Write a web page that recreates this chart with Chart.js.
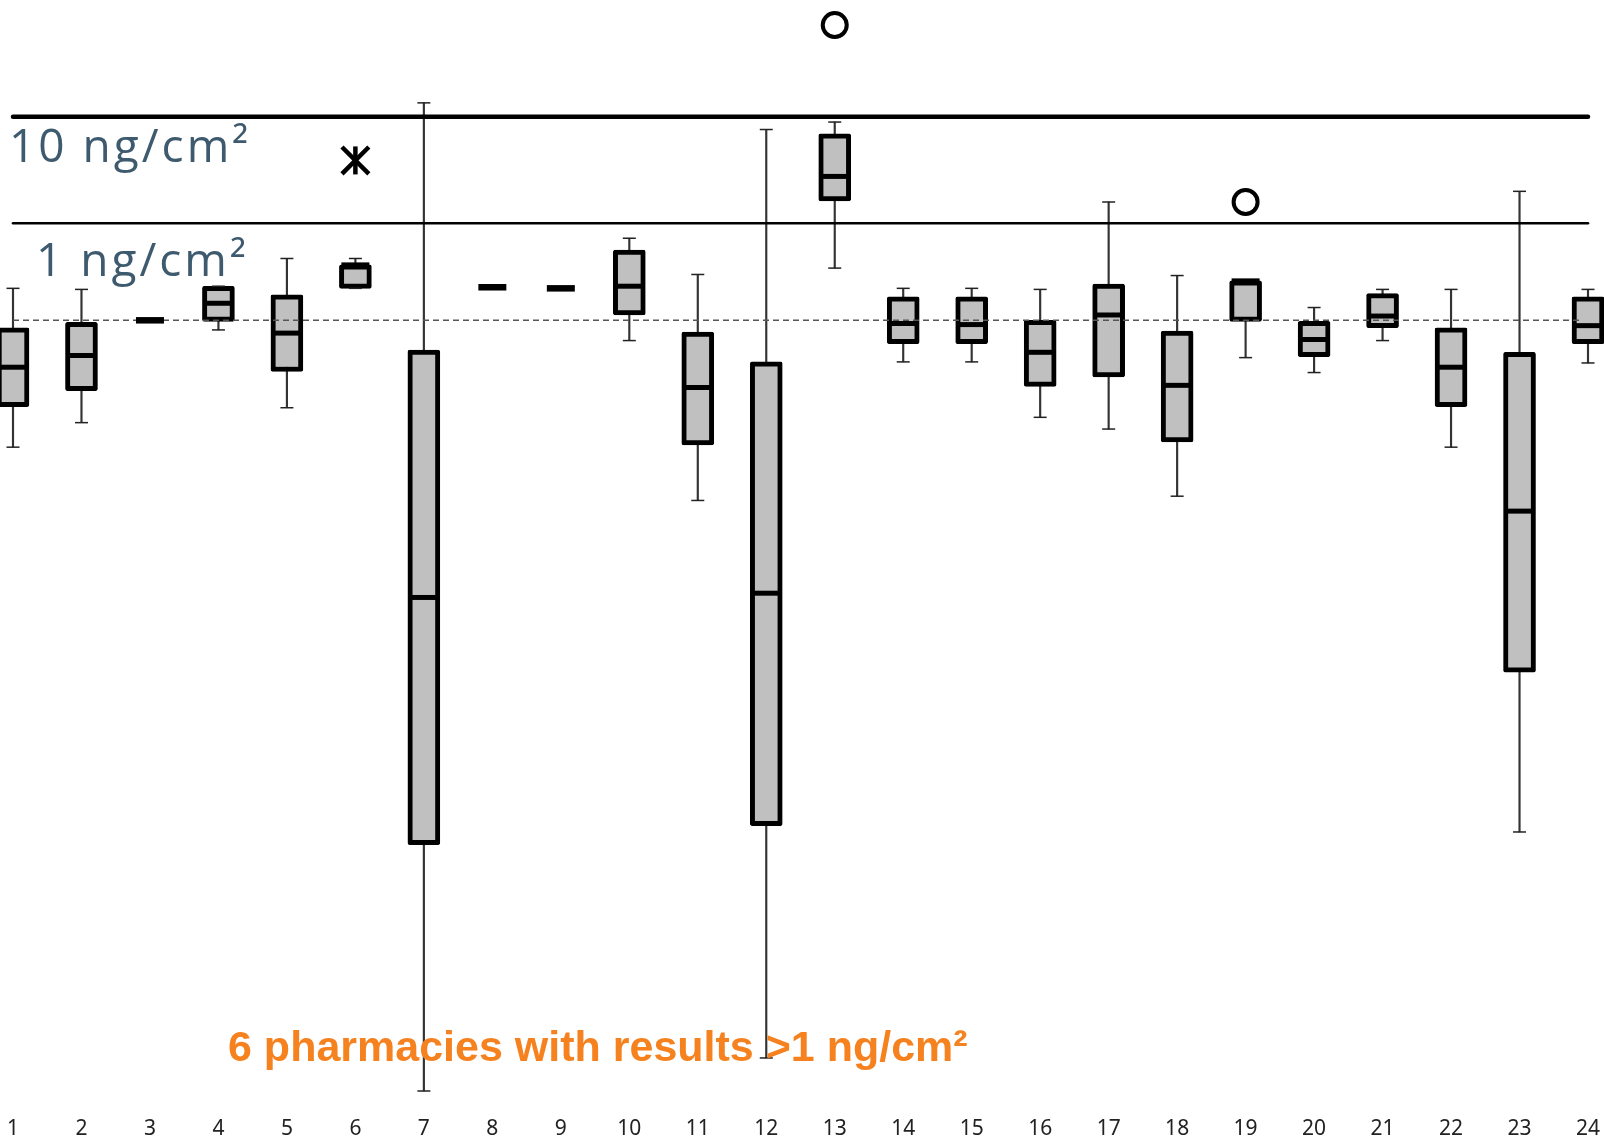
<!DOCTYPE html>
<html>
<head>
<meta charset="utf-8">
<script src="https://cdn.jsdelivr.net/npm/chart.js@4.4.1/dist/chart.umd.min.js"></script>
<style>
  html, body { margin: 0; padding: 0; background: #fff; }
  #wrap { width: 1604px; height: 1141px; position: relative; }
</style>
</head>
<body>
<div id="wrap"><canvas id="boxChart"></canvas></div>
<script>
// pharmacies 1..24, values are log10(ng/cm²)
const categories = ['1','2','3','4','5','6','7','8','9','10','11','12',
                    '13','14','15','16','17','18','19','20','21','22','23','24'];

const whiskerLow  = [-2.10, -1.87, -0.91, -1.00, -1.73, -0.61, -8.14, -0.60, -0.61, -1.10, -2.60, -7.83,
                     -0.42, -1.30, -1.30, -1.82, -1.93, -2.56, -1.26, -1.40, -1.10, -2.10, -5.71, -1.31];
const quartile1   = [-1.72, -1.57, -0.91, -0.92, -1.39, -0.61, -5.83, -0.60, -0.61, -0.86, -2.08, -5.65,
                      0.21, -1.13, -1.13, -1.53, -1.44, -2.05, -0.92, -1.25, -0.98, -1.72, -4.21, -1.13];
const medians     = [-1.35, -1.24, -0.91, -0.75, -1.03, -0.39, -3.51, -0.60, -0.61, -0.59, -1.54, -3.47,
                      0.44, -0.94, -0.95, -1.21, -0.86, -1.52, -0.54, -1.09, -0.87, -1.35, -2.70, -0.96];
const quartile3   = [-0.98, -0.93, -0.91, -0.59, -0.67, -0.39, -1.19, -0.60, -0.61, -0.25, -1.02, -1.30,
                      0.84, -0.69, -0.69, -0.91, -0.57, -1.01, -0.54, -0.92, -0.66, -0.98, -1.21, -0.69];
const whiskerHigh = [-0.61, -0.62, -0.91, -0.59, -0.33, -0.33,  1.13, -0.60, -0.61, -0.14, -0.48,  0.88,
                      0.95, -0.61, -0.61, -0.62,  0.20, -0.49, -0.54, -0.79, -0.62, -0.62,  0.30, -0.62];

// outliers (circles) and extremes (asterisk)
const outliers = [null, null, null, null, null, null, null, null, null, null, null, null,
                  1.86, null, null, null, null, null, 0.20, null, null, null, null, null];
const extremes = [null, null, null, null, null, 0.59, null, null, null, null, null, null,
                  null, null, null, null, null, null, null, null, null, null, null, null];

// horizontal reference levels: 10 ng/cm², 1 ng/cm², and the dashed level
const level10 = 1;
const level1 = 0;
const dashedLevel = -0.91;

const refLines = {
  id: 'refLines',
  // dashed line goes over the box fills but under the medians
  afterDatasetDraw(chart, args) {
    if (args.index !== 1) return;
    const { ctx, chartArea, scales: { y } } = chart;
    ctx.save();
    ctx.strokeStyle = '#555';
    ctx.lineWidth = 1.5;
    ctx.setLineDash([6, 4]);
    ctx.beginPath();
    ctx.moveTo(chartArea.left, y.getPixelForValue(dashedLevel));
    ctx.lineTo(chartArea.right - 5, y.getPixelForValue(dashedLevel));
    ctx.stroke();
    ctx.restore();
  },
  afterDatasetsDraw(chart) {
    const { ctx, chartArea, scales: { y } } = chart;
    ctx.save();
    ctx.strokeStyle = '#000';
    ctx.lineCap = 'round';
    ctx.lineWidth = 4.5;
    ctx.beginPath();
    ctx.moveTo(chartArea.left, y.getPixelForValue(level10));
    ctx.lineTo(chartArea.right, y.getPixelForValue(level10));
    ctx.stroke();

    ctx.lineWidth = 2.5;
    ctx.beginPath();
    ctx.moveTo(chartArea.left, y.getPixelForValue(level1));
    ctx.lineTo(chartArea.right, y.getPixelForValue(level1));
    ctx.stroke();

    ctx.fillStyle = '#3e5a6e';
    ctx.font = '46px "Open Sans"';
    ctx.letterSpacing = '3px';
    ctx.textBaseline = 'alphabetic';
    ctx.fillText('10 ng/cm²', chartArea.left - 4, y.getPixelForValue(level10) + 45);
    ctx.fillText('1 ng/cm²', chartArea.left + 23, y.getPixelForValue(level1) + 53);

    ctx.letterSpacing = '0px';
    ctx.fillStyle = '#f5821f';
    ctx.font = 'bold 43px "Liberation Sans"';
    ctx.fillText('6 pharmacies with results >1 ng/cm²', 228, chartArea.bottom - 30);
    ctx.restore();
  }
};

new Chart(document.getElementById('boxChart'), {
  type: 'bar',
  data: {
    labels: categories,
    datasets: [
      {
        label: 'whiskers',
        data: categories.map((c, i) => [whiskerLow[i], whiskerHigh[i]]),
        backgroundColor: '#333',
        barThickness: 1.5,
        grouped: false,
        clip: false,
        order: 6
      },
      {
        label: 'boxes',
        data: categories.map((c, i) => [quartile1[i], quartile3[i]]),
        backgroundColor: '#c0c0c0',
        borderColor: '#000',
        borderWidth: 5,
        borderSkipped: false,
        borderRadius: 2,
        barThickness: 32,
        grouped: false,
        clip: false,
        order: 5
      },
      {
        type: 'line',
        label: 'upper caps',
        data: whiskerHigh,
        showLine: false,
        pointStyle: 'line',
        pointRadius: 6.5,
        borderColor: '#222',
        pointBorderWidth: 1.5,
        clip: false,
        order: 4
      },
      {
        type: 'line',
        label: 'lower caps',
        data: whiskerLow,
        showLine: false,
        pointStyle: 'line',
        pointRadius: 6.5,
        borderColor: '#222',
        pointBorderWidth: 1.5,
        clip: false,
        order: 4
      },
      {
        type: 'line',
        label: 'median',
        data: medians,
        showLine: false,
        pointStyle: 'line',
        pointRadius: 14,
        borderColor: '#000',
        // a collapsed box (q1 == q3) shows as a single thicker dash
        pointBorderWidth: (c) => quartile1[c.dataIndex] === quartile3[c.dataIndex] ? 6.5 : 5,
        clip: false,
        order: 3
      },
      {
        type: 'line',
        label: 'outliers',
        data: outliers,
        showLine: false,
        pointStyle: 'circle',
        pointRadius: 12,
        pointBackgroundColor: '#fff',
        borderColor: '#000',
        pointBorderWidth: 4,
        clip: false,
        order: 2
      },
      {
        type: 'line',
        label: 'extremes',
        data: extremes,
        showLine: false,
        pointStyle: 'crossRot',
        pointRadius: 19,
        borderColor: '#000',
        pointBorderWidth: 4.5,
        clip: false,
        order: 1
      },
      {
        type: 'line',
        label: 'extremes stem',
        data: extremes,
        showLine: false,
        pointStyle: 'line',
        pointRotation: 90,
        pointRadius: 14,
        borderColor: '#000',
        pointBorderWidth: 4.5,
        clip: false,
        order: 1
      }
    ]
  },
  options: {
    responsive: true,
    maintainAspectRatio: false,
    animation: false,
    layout: { autoPadding: false, padding: { left: 13, right: 16, top: 0, bottom: 0 } },
    plugins: {
      legend: { display: false },
      tooltip: { enabled: false }
    },
    scales: {
      x: {
        offset: false,
        grid: { display: false },
        border: { display: false },
        ticks: {
          color: '#222',
          font: { family: '"Noto Sans"', size: 21 },
          padding: 17,
          maxRotation: 0,
          autoSkip: false
        },
        afterFit: (scale) => {
          scale.height = 50;
          scale.paddingLeft = 0;
          scale.paddingRight = 0;
        }
      },
      y: {
        display: false,
        min: -8.14,
        max: 2.095
      }
    }
  },
  plugins: [refLines]
});
</script>
</body>
</html>
